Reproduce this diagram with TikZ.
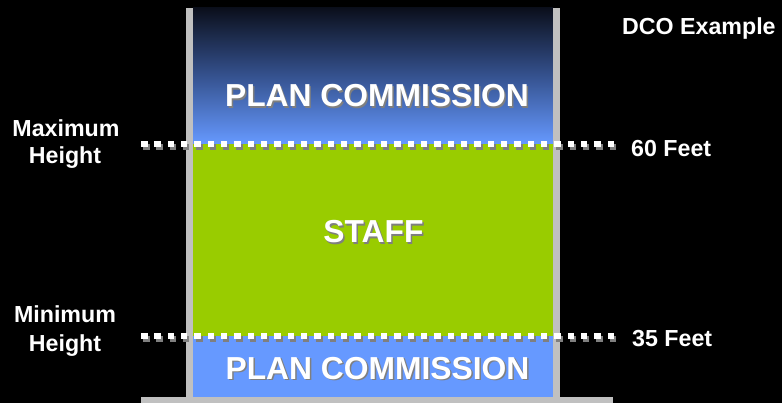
\documentclass[tikz,border=0pt]{standalone}
\usepackage{fontspec}
\setmainfont{Liberation Sans}

\definecolor{planblue}{HTML}{6699FF}
\definecolor{staffgreen}{HTML}{99CC00}
\definecolor{wallgray}{HTML}{C0C0C0}
\definecolor{skytop}{HTML}{0B0F1C}
\definecolor{skymid}{HTML}{35528F}
\definecolor{dotshadow}{HTML}{7F7F7F}

\tikzset{
        zonetext/.style={font=\bfseries\fontsize{31.8}{31.8}\selectfont, text=white, anchor=base, inner sep=0},
        zoneshadow/.style={zonetext, text=dotshadow},
        sidetext/.style={font=\bfseries\fontsize{23.2}{23.2}\selectfont, text=white, inner sep=0}
}

\begin{document}
\begin{tikzpicture}[x=1pt, y=-1pt]
        % Background:
        \fill[black] (0, 0) rectangle (782, 403);
        \useasboundingbox (0, 0) rectangle (782, 403);

        % Zones:
        \shade[top color=skytop, bottom color=planblue, middle color=skymid] (193, 8) rectangle (553, 144);
        \fill[staffgreen] (193, 144) rectangle (553, 336);
        \fill[planblue] (193, 336) rectangle (553, 397);

        % Walls and base:
        \fill[wallgray] (186, 8) rectangle (193, 397);
        \fill[wallgray] (553, 8) rectangle (560, 397);
        \fill[wallgray] (141, 397) rectangle (613, 403);

        % Height lines:
        \foreach \y in {141, 333}
            \foreach \i in {0, ..., 35}
                \fill[dotshadow] ({143 + 13.33*\i}, \y + 3) rectangle +(6.5, 6);
        \foreach \y in {141, 333}
            \foreach \i in {0, ..., 35}
                \fill[white] ({141 + 13.33*\i}, \y) rectangle +(6.5, 6);

        % Zone labels:
        \node[zoneshadow] (topplanshadow) at (378.5, 108.5) {PLAN COMMISSION};
        \node[zonetext] (topplan) at (377, 107) {PLAN COMMISSION};
        \node[zoneshadow] (staffshadow) at (375, 244.5) {STAFF};
        \node[zonetext] (staff) at (373.5, 243) {STAFF};
        \node[zoneshadow] (lowplanshadow) at (379, 380.5) {PLAN COMMISSION};
        \node[zonetext] (lowplan) at (377.5, 379) {PLAN COMMISSION};

        % Side labels:
        \node[sidetext, anchor=base] (maxtop) at (66, 137) {Maximum};
        \node[sidetext, anchor=base] (maxbottom) at (65, 164) {Height};
        \node[sidetext, anchor=base] (mintop) at (65, 323) {Minimum};
        \node[sidetext, anchor=base] (minbottom) at (65, 352) {Height};
        \node[sidetext, anchor=base west] (sixtyfeet) at (631, 157) {60 Feet};
        \node[sidetext, anchor=base west] (thirtyfivefeet) at (632, 347) {35 Feet};
        \node[sidetext, anchor=base west] (dcoexample) at (622, 35) {DCO Example};
\end{tikzpicture}
\end{document}
